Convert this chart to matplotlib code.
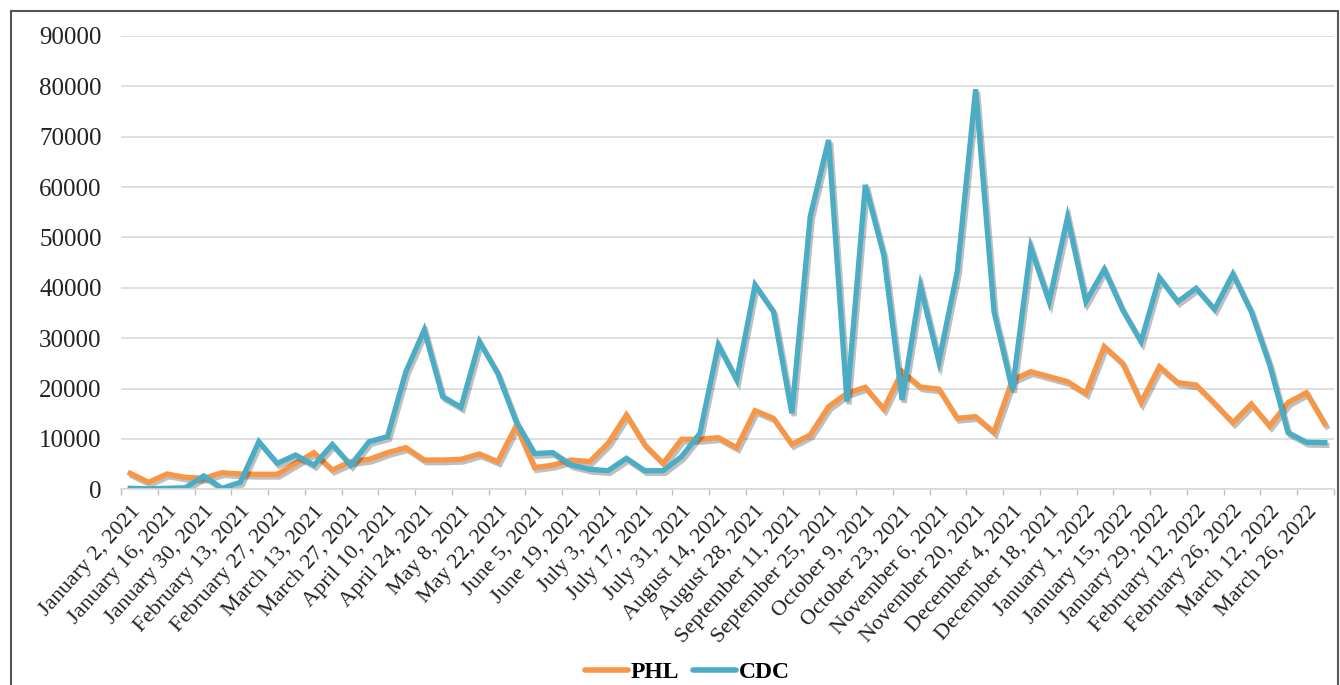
import matplotlib
matplotlib.use('Agg')
import matplotlib.pyplot as plt
import matplotlib.patheffects as pe
from matplotlib.patches import Rectangle

# weekly counts, January 2, 2021 .. April 2, 2022
phl = [3180, 1400, 3040, 2380, 2180, 3300, 3040, 2980, 2980, 5160,
       7280, 3840, 5490, 5960, 7280, 8270, 5820, 5820, 5960, 7020,
       5490, 12600, 4300, 4800, 5820, 5490, 9130, 14760, 8800, 5160,
       9930, 9930, 10260, 8270, 15620, 14100, 8930, 10790, 16410, 19060,
       20250, 15950, 23400, 20300, 19900, 14100, 14430, 11320, 21710, 23360,
       22370, 21380, 19060, 28330, 25020, 17210, 24350, 21180, 20710, 17070,
       13240, 16940, 12570, 17210, 19190, 12970]
cdc = [200, 100, 200, 300, 2650, 200, 1400, 9460, 5160, 6800,
       4800, 8900, 4800, 9460, 10450, 23360, 31630, 18400, 16280, 29320,
       23030, 13430, 7100, 7280, 4830, 3970, 3700, 6150, 3700, 3700,
       6490, 11120, 28660, 21710, 40570, 35280, 15090, 54140, 69360, 17410,
       60430, 46530, 17740, 40300, 25350, 43220, 79420, 35280, 19720, 48050,
       37260, 54000, 37260, 43680, 35610, 29320, 42030, 37260, 39910, 35740,
       42750, 35280, 24690, 11250, 9330, 9270]

# every second week is labelled
tick_labels = ['January 2, 2021', 'January 16, 2021', 'January 30, 2021',
               'February 13, 2021', 'February 27, 2021', 'March 13, 2021',
               'March 27, 2021', 'April 10, 2021', 'April 24, 2021', 'May 8, 2021',
               'May 22, 2021', 'June 5, 2021', 'June 19, 2021', 'July 3, 2021',
               'July 17, 2021', 'July 31, 2021', 'August 14, 2021', 'August 28, 2021',
               'September 11, 2021', 'September 25, 2021', 'October 9, 2021',
               'October 23, 2021', 'November 6, 2021', 'November 20, 2021',
               'December 4, 2021', 'December 18, 2021', 'January 1, 2022',
               'January 15, 2022', 'January 29, 2022', 'February 12, 2022',
               'February 26, 2022', 'March 12, 2022', 'March 26, 2022']

plt.rcParams['font.family'] = ['Liberation Serif', 'DejaVu Serif']

fig = plt.figure(figsize=(13.4, 6.85), dpi=100)
ax = fig.add_axes([121 / 1340, 1 - 489.3 / 685, (1334 - 121) / 1340, (489.3 - 36) / 685])

x = list(range(len(phl)))
shadow = [pe.SimpleLineShadow(offset=(1.5, -2), shadow_color='black', alpha=0.25), pe.Normal()]
ax.plot(x, phl, color='#F79646', lw=3.8, label='PHL', path_effects=shadow, solid_joinstyle='miter')
ax.plot(x, cdc, color='#4BACC6', lw=3.8, label='CDC', path_effects=shadow, solid_joinstyle='miter')

ax.set_xlim(-0.5, len(phl) - 0.5)
ax.set_ylim(0, 90000)
ax.set_yticks(range(0, 90001, 10000))
ax.set_yticklabels([str(v) for v in range(0, 90001, 10000)], fontsize=18, color='#222222')
ax.yaxis.grid(True, color='#d9d9d9', lw=1.2)
ax.set_axisbelow(True)
ax.tick_params(axis='y', length=0, pad=14)

ax.set_xticks(range(0, len(phl), 2))
ax.set_xticklabels(tick_labels, rotation=48, ha='right', rotation_mode='anchor',
                   fontsize=16, color='#222222')
ax.set_xticks([i - 0.5 for i in range(0, len(phl) + 1, 2)], minor=True)
ax.tick_params(axis='x', which='major', length=0, pad=9)
ax.tick_params(axis='x', which='minor', length=4, color='#bfbfbf', width=1)

for s in ['top', 'right', 'left']:
    ax.spines[s].set_visible(False)
ax.spines['bottom'].set_color('#d9d9d9')
ax.spines['bottom'].set_linewidth(1.2)

leg = fig.legend(loc='center', bbox_to_anchor=(0.513, 1 - 672 / 685), ncol=2, frameon=False,
                 prop={'weight': 'bold', 'size': 17}, handlelength=1.8, handletextpad=0.12,
                 columnspacing=0.6, borderpad=0.1)
for line in leg.get_lines():
    line.set_linewidth(4)
    line.set_solid_capstyle('round')
    line.set_path_effects([])  # no shadow on the legend keys

# chart border
fig.patches.append(Rectangle((11 / 1340, -0.05), (1338 - 11) / 1340, 1.05 - 11 / 685,
                             transform=fig.transFigure, fill=False, edgecolor='#555555', lw=1.5))

fig.savefig('out.png', dpi=100)
